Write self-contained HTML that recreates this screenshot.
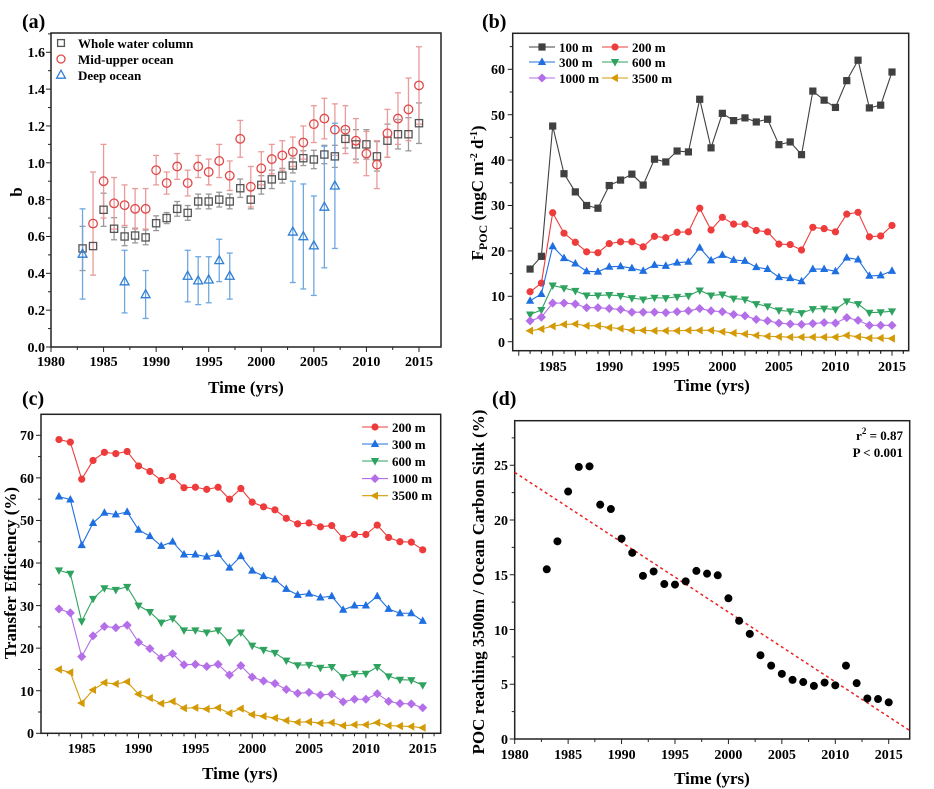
<!DOCTYPE html>
<html><head><meta charset="utf-8"><style>
html,body{margin:0;padding:0;background:#fff}
svg{display:block;font-family:"Liberation Serif",serif;font-weight:bold}
.t{font-size:14px}
.ti{font-size:17px}
.lg{font-size:13px}
.pl{font-size:20px}
</style></head><body>
<svg id="s" width="934" height="789" viewBox="0 0 934 789" xmlns="http://www.w3.org/2000/svg">
<rect width="934" height="789" fill="#fff"/>
<g id="g"></g>
<!-- panel labels -->
<text class="pl" x="22" y="28">(a)</text>
<text class="pl" x="482" y="28">(b)</text>
<text class="pl" x="22" y="405">(c)</text>
<text class="pl" x="492" y="405">(d)</text>
<!-- A ticks -->
<g class="t" text-anchor="middle">
<text x="51" y="366">1980</text><text x="103.6" y="366">1985</text><text x="156.1" y="366">1990</text><text x="208.7" y="366">1995</text><text x="261.3" y="366">2000</text><text x="313.9" y="366">2005</text><text x="366.4" y="366">2010</text><text x="419" y="366">2015</text>
<text x="552.7" y="371">1985</text><text x="609.3" y="371">1990</text><text x="665.8" y="371">1995</text><text x="722.4" y="371">2000</text><text x="778.9" y="371">2005</text><text x="835.5" y="371">2010</text><text x="892" y="371">2015</text>
<text x="81.7" y="753">1985</text><text x="138.5" y="753">1990</text><text x="195.4" y="753">1995</text><text x="252.2" y="753">2000</text><text x="309.1" y="753">2005</text><text x="366" y="753">2010</text><text x="422.7" y="753">2015</text>
<text x="514.7" y="759">1980</text><text x="568.1" y="759">1985</text><text x="621.6" y="759">1990</text><text x="675" y="759">1995</text><text x="728.4" y="759">2000</text><text x="781.9" y="759">2005</text><text x="835.3" y="759">2010</text><text x="888.7" y="759">2015</text>
</g>
<g class="t" text-anchor="end">
<text x="45" y="352">0.0</text><text x="45" y="315">0.2</text><text x="45" y="278">0.4</text><text x="45" y="241">0.6</text><text x="45" y="205">0.8</text><text x="45" y="168">1.0</text><text x="45" y="131">1.2</text><text x="45" y="94">1.4</text><text x="45" y="57">1.6</text>
<text x="505" y="347">0</text><text x="505" y="301">10</text><text x="505" y="256">20</text><text x="505" y="210">30</text><text x="505" y="165">40</text><text x="505" y="120">50</text><text x="505" y="74">60</text>
<text x="34" y="738">0</text><text x="34" y="696">10</text><text x="34" y="653">20</text><text x="34" y="611">30</text><text x="34" y="568">40</text><text x="34" y="525">50</text><text x="34" y="483">60</text><text x="34" y="440">70</text>
<text x="508" y="744">0</text><text x="508" y="689">5</text><text x="508" y="635">10</text><text x="508" y="580">15</text><text x="508" y="525">20</text><text x="508" y="470">25</text>
</g>
<!-- axis titles -->
<g class="ti" text-anchor="middle">
<text x="246" y="393">Time (yrs)</text>
<text x="712" y="391">Time (yrs)</text>
<text x="240" y="779">Time (yrs)</text>
<text x="712" y="784">Time (yrs)</text>
<text transform="translate(22,192) rotate(-90)">b</text>
<text transform="translate(483,193) rotate(-90)">F<tspan font-size="12" dy="4">POC</tspan><tspan dy="-4"> (mgC m</tspan><tspan font-size="10" dy="-6">-2</tspan><tspan dy="6"> d</tspan><tspan font-size="10" dy="-6">-1</tspan><tspan dy="6">)</tspan></text>
<text transform="translate(16,573) rotate(-90)">Transfer Efficiency (%)</text>
<text transform="translate(484,582) rotate(-90)">POC reaching 3500m / Ocean Carbon Sink (%)</text>
</g>
<!-- legends -->
<g class="lg">
<text x="78" y="48">Whole water column</text>
<text x="78" y="64">Mid-upper ocean</text>
<text x="78" y="80">Deep ocean</text>
<text x="559" y="52">100 m</text><text x="632" y="52">200 m</text>
<text x="559" y="67">300 m</text><text x="632" y="67">600 m</text>
<text x="559" y="83">1000 m</text><text x="632" y="83">3500 m</text>
<text x="392" y="432">200 m</text><text x="392" y="449">300 m</text><text x="392" y="466">600 m</text><text x="392" y="483">1000 m</text><text x="392" y="500">3500 m</text>
</g>
<g class="lg" text-anchor="end">
<text x="903" y="440">r<tspan font-size="9" dy="-6">2</tspan><tspan dy="6"> = 0.87</tspan></text>
<text x="903" y="457">P &lt; 0.001</text>
</g>
</svg>
<script>
const G=document.getElementById('g');const NS='http://www.w3.org/2000/svg';
function el(t,a){const e=document.createElementNS(NS,t);for(const k in a)e.setAttribute(k,a[k]);G.appendChild(e);return e;}
function frame(l,t,r,b){el('rect',{x:l,y:t,width:r-l,height:b-t,fill:'none',stroke:'#222','stroke-width':1.5});}
function xt(X,y0,y1,step,minor,b){for(let v=y0;v<=y1+1e-9;v+=minor){const x=X(v);const maj=Math.abs((v-y0)/step-Math.round((v-y0)/step))<1e-6;el('line',{x1:x,x2:x,y1:b,y2:b+(maj?5:3),stroke:'#222','stroke-width':1});}}
function yt(Y,v0,v1,step,minor,l){for(let v=v0;v<=v1+1e-9;v+=minor){const y=Y(v);const maj=Math.abs((v-v0)/step-Math.round((v-v0)/step))<1e-6;el('line',{x1:l,x2:l-(maj?5:3),y1:y,y2:y,stroke:'#222','stroke-width':1});}}
function mk(type,x,y,c,s,fill){s=s||3.6;fill=fill===undefined?c:fill;let a={fill:fill,stroke:c,'stroke-width':fill=='none'?1.3:0.6};
 if(type=='sq')el('rect',Object.assign({x:x-s,y:y-s,width:2*s,height:2*s},a));
 else if(type=='ci')el('circle',Object.assign({cx:x,cy:y,r:s},a));
 else{let p;if(type=='up')p=[[0,-s*1.2],[s*1.1,s*0.8],[-s*1.1,s*0.8]];else if(type=='dn')p=[[0,s*1.2],[s*1.1,-s*0.8],[-s*1.1,-s*0.8]];else if(type=='di')p=[[0,-s*1.25],[s*1.25,0],[0,s*1.25],[-s*1.25,0]];else p=[[-s*1.2,0],[s*0.8,-s*1.1],[s*0.8,s*1.1]];
 el('polygon',Object.assign({points:p.map(q=>(x+q[0])+','+(y+q[1])).join(' ')},a));}}
const yrs=[];for(let y=1983;y<=2015;y++)yrs.push(y);
// Panel A
const AX=y=>51+(y-1980)*10.514,AY=v=>347-v*184.2;
frame(51,33,441,347);xt(AX,1980,2015,5,2.5,347);yt(AY,0,1.7,0.2,0.1,51);
const aw=[.535,.548,.745,.642,.60,.605,.595,.672,.70,.75,.728,.79,.79,.80,.79,.862,.80,.88,.91,.93,.985,1.025,1.018,1.045,1.035,1.13,1.10,1.10,1.035,1.12,1.155,1.155,1.215];
const awe=[.12,0,.09,.06,.05,.04,.04,.04,.03,.04,.04,.04,.04,.04,.04,.05,.05,.05,.05,.04,.04,.04,.05,.05,.06,.05,.08,.08,.08,.09,.08,.09,.11];
const am=[null,.67,.90,.78,.77,.75,.75,.96,.89,.98,.89,.98,.95,1.01,.93,1.13,.87,.97,1.02,1.04,1.06,1.11,1.21,1.24,1.18,1.18,1.12,1.05,.99,1.16,1.24,1.29,1.42];
const ame=[0,.28,.2,.14,.11,.11,.11,.08,.06,.07,.07,.06,.07,.09,.08,.10,.11,.09,.08,.08,.08,.09,.10,.11,.14,.13,.12,.12,.13,.13,.14,.17,.21];
const ad={1983:[.505,.245],1987:[.355,.17],1989:[.285,.13],1993:[.385,.14],1994:[.36,.13],1995:[.365,.125],1996:[.47,.115],1997:[.385,.125],2003:[.625,.275],2004:[.60,.285],2005:[.55,.27],2006:[.76,.33],2007:[.875,.34]};
function eb(x,v,e,c){if(!e)return;el('line',{x1:x,x2:x,y1:AY(v-e),y2:AY(v+e),stroke:c,'stroke-width':1.3});[v-e,v+e].forEach(w=>el('line',{x1:x-3,x2:x+3,y1:AY(w),y2:AY(w),stroke:c,'stroke-width':1.3}));}
yrs.forEach((y,i)=>eb(AX(y),aw[i],awe[i],'#999'));
yrs.forEach((y,i)=>{if(am[i]!=null)eb(AX(y),am[i],ame[i],'#eb9a9a');});
for(const y in ad)eb(AX(+y),ad[y][0],ad[y][1],'#6fa8e0');
yrs.forEach((y,i)=>mk('sq',AX(y),AY(aw[i]),'#555',3.6,'none'));
yrs.forEach((y,i)=>{if(am[i]!=null)mk('ci',AX(y),AY(am[i]),'#e04848',4.3,'none');});
for(const y in ad)mk('up',AX(+y),AY(ad[y][0]),'#2f7fd4',4,'none');
mk('sq',61,43,'#555',3.4,'none');mk('ci',61,59,'#e04848',4,'none');mk('up',61,75,'#2f7fd4',4,'none');
// series helper
function series(X,Y,d,c,t){el('polyline',{points:d.map((v,i)=>X(yrs[i])+','+Y(v)).join(' '),fill:'none',stroke:c,'stroke-width':1.1});d.forEach((v,i)=>mk(t,X(yrs[i]),Y(v),c,3.3));}
function leg(x1,x2,y,c,t){el('line',{x1:x1,x2:x2,y1:y,y2:y,stroke:c,'stroke-width':1.1});mk(t,(x1+x2)/2,y,c,3.3);}
// Panel B
const BX=y=>552.7+(y-1985)*11.31,BY=v=>341.7-v*4.54;
frame(512.7,33.3,908.7,350.7);xt(BX,1982,2016,5,1,350.7);
for(let y=1983;y<=2016;y++){const x=BX(y);el('line',{x1:x,x2:x,y1:350.7,y2:350.7+((y-1985)%5==0?5:3),stroke:'#222'});}
yt(BY,0,65,10,5,512.7);
const B=[
[[16,18.8,47.5,37,33,30,29.4,34.4,35.6,36.9,34.5,40.2,39.6,42,41.8,53.4,42.7,50.3,48.7,49.3,48.4,49,43.4,44,41.2,55.2,53.2,51.6,57.5,62,51.5,52.1,59.4],'#404040','sq'],
[[11,12.9,28.4,23.9,21.9,19.8,19.6,21.6,22,22,20.9,23.2,22.9,24.1,24.2,29.4,24.6,27.4,25.9,25.9,24.5,24.2,21.5,21.4,20.2,25.2,24.9,24.2,28.1,28.5,23.1,23.3,25.6],'#ee3b3b','ci'],
[[9,10.5,21,18.4,17.2,15.5,15.4,16.5,16.6,16.2,15.6,16.9,16.7,17.4,17.6,20.7,17.9,19.1,18,17.8,16.4,16,14.2,14,13.3,16,16,15.5,18.5,18.1,14.5,14.6,15.6],'#1f6fe0','up'],
[[6,7,12.4,11.8,11.2,10.2,10.2,10.3,10.1,9.6,9.3,9.7,9.6,9.9,10.1,11.3,10.2,10.4,9.5,9.3,8.3,7.8,6.9,6.7,6.3,7.2,7.3,7.1,8.9,8.3,6.4,6.5,6.7],'#2ea35f','dn'],
[[4.6,5.4,8.5,8.5,8.3,7.5,7.5,7.3,7.1,6.5,6.5,6.5,6.4,6.6,6.8,7.3,6.8,6.6,6,5.7,4.9,4.6,4.1,3.9,3.8,4,4.2,4.1,5.3,4.7,3.6,3.6,3.6],'#b36ee8','di'],
[[2.4,2.8,3.4,3.8,3.9,3.5,3.5,3.1,2.9,2.5,2.5,2.4,2.4,2.4,2.5,2.5,2.5,2.2,1.9,1.7,1.4,1.2,1.1,1,1,1,1,1,1.4,1.1,.8,.8,.7],'#d49a06','lt']];
B.forEach(s=>series(BX,BY,s[0],s[1],s[2]));
leg(529,555,47,B[0][1],'sq');leg(602,628,47,B[1][1],'ci');leg(529,555,62,B[2][1],'up');leg(602,628,62,B[3][1],'dn');leg(529,555,78,B[4][1],'di');leg(602,628,78,B[5][1],'lt');
// Panel C
const CX=y=>81.7+(y-1985)*11.367,CY=v=>733.3-v*4.257;
frame(41,414.3,440.7,733.3);
for(let y=1982;y<=2016;y++){const x=CX(y);el('line',{x1:x,x2:x,y1:733.3,y2:733.3+((y-1985)%5==0?5:3),stroke:'#222'});}
yt(CY,0,70,10,5,41);
const C=[
[[69,68.4,59.7,64.1,66,65.7,66.2,62.8,61.5,59.4,60.3,57.7,57.8,57.3,57.8,55,57.5,54.3,53.2,52.5,50.5,49.2,49.4,48.5,48.8,45.8,46.7,46.7,48.9,46,45,44.9,43.1],'#ee3b3b','ci'],
[[55.6,54.9,44.2,49.4,51.8,51.4,52,47.8,46.3,44,45,42,42,41.5,42.1,38.9,41.6,38.2,36.9,36.1,33.9,32.5,32.8,31.9,32.2,29,30,30,32.2,29.2,28.2,28.2,26.4],'#1f6fe0','up'],
[[38.3,37.5,26.3,31.6,34.1,33.7,34.4,30,28.5,26,27,24.2,24.2,23.7,24.2,21.4,23.7,20.6,19.6,18.9,17.1,16,16.1,15.4,15.6,13.2,14,14,15.6,13.4,12.6,12.5,11.3],'#2ea35f','dn'],
[[29.2,28.3,18,22.9,25.1,24.8,25.4,21.4,19.9,17.7,18.7,16.1,16.2,15.7,16.2,13.7,15.9,13.2,12.3,11.7,10.3,9.4,9.6,9,9.2,7.4,8,8,9.3,7.5,7,6.9,6],'#b36ee8','di'],
[[15,14.3,7.1,10.2,11.9,11.6,12.1,9.2,8.3,7,7.5,5.9,6,5.7,6,4.7,5.8,4.4,4,3.6,3,2.6,2.7,2.4,2.5,1.8,2,2,2.5,1.8,1.7,1.6,1.3],'#d49a06','lt']];
C.forEach(s=>series(CX,CY,s[0],s[1],s[2]));
[427,444,461,478.6,495.7].forEach((y,i)=>leg(362,388,y,C[i][1],C[i][2]));
// Panel D
const DX=y=>514.7+(y-1980)*10.686,DY=v=>739-v*10.95;
frame(514.7,420.7,909.7,739);xt(DX,1980,2015,5,2.5,739);yt(DY,0,28,5,2.5,514.7);
el('line',{x1:DX(1980),y1:DY(24.35),x2:DX(2017),y2:DY(0.75),stroke:'#ee2222','stroke-width':1.5,'stroke-dasharray':'3,3'});
[15.5,18.05,22.6,24.85,24.9,21.4,21,18.3,17,14.9,15.3,14.15,14.1,14.4,15.35,15.1,14.95,12.85,10.8,9.6,7.65,6.7,5.95,5.4,5.2,4.85,5.15,4.9,6.7,5.1,3.7,3.65,3.35].forEach((v,i)=>el('circle',{cx:DX(yrs[i]),cy:DY(v),r:4,fill:'#000'}));
</script>
</body></html>
